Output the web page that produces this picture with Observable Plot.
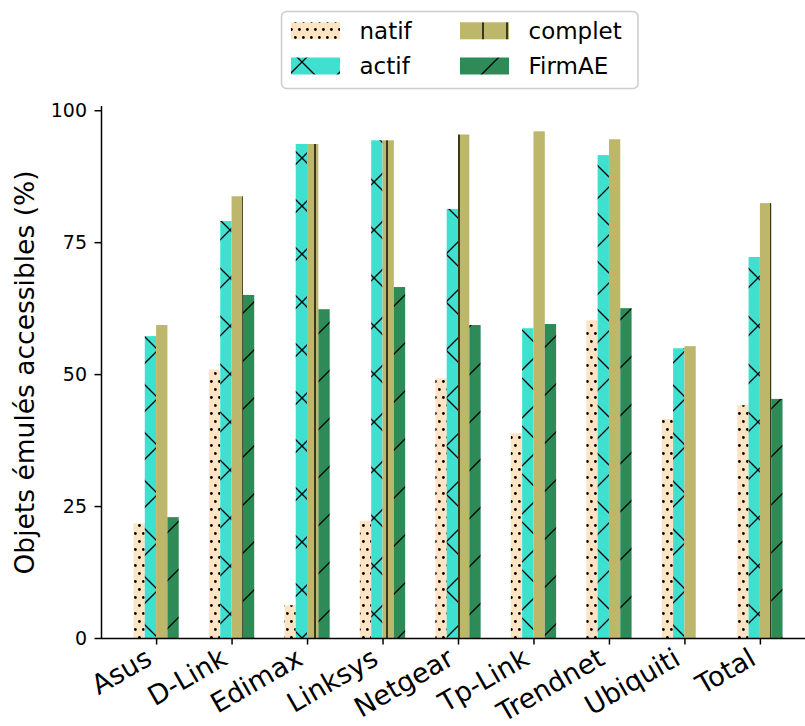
<!DOCTYPE html>
<html><head><meta charset="utf-8">
<script src="https://cdn.jsdelivr.net/npm/d3@7"></script>
<script src="https://cdn.jsdelivr.net/npm/@observablehq/plot@0.6"></script>
<style>body{margin:0;background:#fff}</style>
</head><body><div id="chart"></div>
<script>
const categories = ["Asus","D-Link","Edimax","Linksys","Netgear","Tp-Link","Trendnet","Ubiquiti","Total"];
const series = ["natif","actif","complet","FirmAE"];
const natif   = [21.7, 50.9,  6.2, 22.2, 49.2, 38.8, 60.2, 41.5, 44.1];
const actif   = [57.2, 79.0, 93.6, 94.3, 81.3, 58.7, 91.5, 54.9, 72.2];
const complet = [59.3, 83.7, 93.6, 94.3, 95.4, 96.0, 94.5, 55.3, 82.4];
const firmae  = [22.9, 65.0, 62.3, 66.5, 59.3, 59.5, 62.5,  0.0, 45.3];
const yTicks = [0, 25, 50, 75, 100];
const yLabel = "Objets émulés accessibles (%)";
const seriesColors = ["#ffe4c4", "#40e0d0", "#bdb76b", "#2e8b57"];

const values = [natif, actif, complet, firmae];
const barW = 0.15;
const rows = [];
categories.forEach((c, i) => series.forEach((s, j) => {
  const v = values[j][i];
  if (v > 0) {
    const cx = i + (j - 1.5) * barW;
    rows.push({cat: c, s, v, x1: cx - barW / 2, x2: cx + barW / 2});
  }
}));

const chart = Plot.plot({
  width: 805, height: 726,
  marginLeft: 101, marginRight: 0, marginTop: 106, marginBottom: 88,
  style: {fontFamily: "DejaVu Sans", background: "white", color: "black"},
  x: {type: "linear", domain: [-0.73, 8.73], range: [101, 815]},
  y: {domain: [0, 100.8]},
  color: {type: "ordinal", domain: series, range: series.map(s => `url(#hatch-${s})`)},
  marks: [
    Plot.rectY(rows, {x1: "x1", x2: "x2", y1: 0, y2: "v", fill: "s"}),
    Plot.ruleX([-0.73], {stroke: "black", strokeWidth: 1.5}),
    Plot.ruleY([0], {stroke: "black", strokeWidth: 1.5}),
    Plot.axisY(yTicks, {tickSize: 6.5, tickPadding: 8, fontSize: 19, label: null, strokeWidth: 1.5}),
    Plot.axisX(d3.range(categories.length), {tickSize: 6.5, tickFormat: () => "", label: null, strokeWidth: 1.5}),
    Plot.text(categories, {x: (d, i) => i, y: 0, text: d => d, rotate: -30, textAnchor: "end", lineAnchor: "bottom", dx: -3, dy: 25, fontSize: 27}),
    Plot.text([yLabel], {frameAnchor: "left", rotate: -90, dx: -68, textAnchor: "middle", lineAnchor: "bottom", fontSize: 26.5})
  ]
});
document.getElementById("chart").appendChild(chart);

// hatch patterns (global alignment like matplotlib)
const svg = d3.select(chart);
const defs = svg.insert("defs", ":first-child");
function pat(id, w, h, bg) {
  const p = defs.append("pattern").attr("id", id).attr("patternUnits", "userSpaceOnUse")
    .attr("x", 0).attr("y", 0).attr("width", w).attr("height", h);
  p.append("rect").attr("width", w).attr("height", h).attr("fill", bg);
  return p;
}
const pn = pat("hatch-natif", 8, 16, seriesColors[0]);
[[3.4, 13.5], [7.4, 5.5], [-0.6, 5.5]].forEach(([cx, cy]) => pn.append("circle").attr("cx", cx).attr("cy", cy).attr("r", 1.4).attr("fill", "black"));
const pa = pat("hatch-actif", 48, 48, seriesColors[1]);
pa.append("path").attr("d", "M-4,32L32,-4M20,56L56,20M-4,-4L52,52M44,-4L52,4M-4,44L4,52").attr("stroke", "black").attr("stroke-width", 1.3).attr("fill", "none");
const pc = pat("hatch-complet", 24, 24, seriesColors[2]);
pc.append("path").attr("d", "M3,-1V25").attr("stroke", "black").attr("stroke-width", 1.4).attr("fill", "none");
const pf = pat("hatch-FirmAE", 48, 48, seriesColors[3]);
pf.append("path").attr("d", "M-4,32L32,-4M20,56L56,20").attr("stroke", "black").attr("stroke-width", 1.3).attr("fill", "none");

// legend
const leg = svg.append("g").attr("font-family", "DejaVu Sans").attr("font-size", 23).attr("text-anchor", "start");
leg.append("rect").attr("x", 281.5).attr("y", 11.5).attr("width", 356.5).attr("height", 77)
  .attr("rx", 5).attr("fill", "white").attr("stroke", "#cccccc").attr("stroke-width", 1.5);
const pos = [[291, 22.3], [291, 57.5], [460, 22.3], [460, 57.5]];
series.forEach((s, j) => {
  const [lx, ly] = pos[j];
  leg.append("rect").attr("x", lx).attr("y", ly).attr("width", 49).attr("height", 17).attr("fill", `url(#hatch-${s})`);
  leg.append("text").attr("x", lx + 68.5).attr("y", ly + 8.5).attr("dy", "0.35em").attr("fill", "black").attr("text-anchor", "start").text(s);
});
</script></body></html>
